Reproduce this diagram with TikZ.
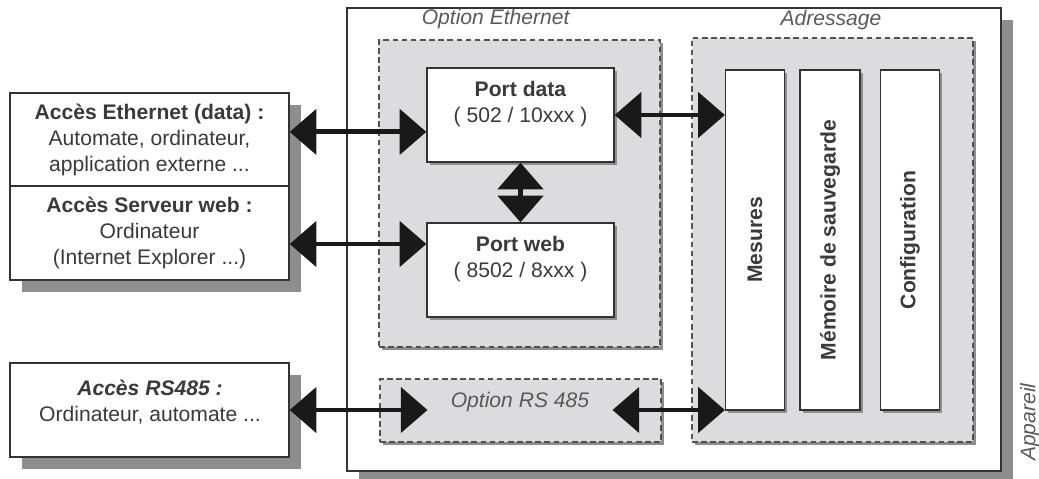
\documentclass[tikz,border=0pt]{standalone}
\usepackage{fontspec}
\setmainfont{Liberation Sans}
\usetikzlibrary{arrows.meta, shadows}

\definecolor{boxline}{HTML}{333333}
\definecolor{txtgray}{HTML}{3A3A3A}
\definecolor{lblgray}{HTML}{5A5A5A}
\definecolor{panelfill}{HTML}{DCDCDE}
\definecolor{shadowgray}{HTML}{8E8E90}

\newcommand{\diagfont}{\fontsize{15}{18.5}\selectfont}

\tikzset{
  bigshadow/.style={drop shadow={shadow xshift=0.3cm, shadow yshift=-0.3cm, fill=shadowgray, opacity=1}},
  smallshadow/.style={drop shadow={shadow xshift=0.07cm, shadow yshift=-0.07cm, fill=shadowgray, opacity=1}},
  appbox/.style={draw=boxline, line width=0.9pt, fill=white, bigshadow},
  hostbox/.style={draw=boxline, line width=0.9pt, fill=white, align=center, minimum width=6.975cm, bigshadow},
  panel/.style={draw=boxline!85, dash pattern=on 4pt off 2.5pt, line width=1pt, fill=panelfill, smallshadow},
  unitbox/.style={draw=boxline, line width=0.9pt, fill=white, smallshadow},
  biarrow/.style={{Triangle[length=19pt,width=32pt]}-{Triangle[length=19pt,width=32pt]}, line width=3.5pt, draw=black!90}
}

\begin{document}
\begin{tikzpicture}[x=0.025cm, y=-0.025cm, every node/.style={font=\diagfont, text=txtgray}]
\useasboundingbox (0,0) rectangle (1039,479);

% appareil et sous-ensembles
\node[appbox, minimum width=16.35cm, minimum height=11.575cm] (app) at (674,239.5) {};
\node[panel, minimum width=7.025cm, minimum height=7.675cm] (optEth) at (519.5,193.5) {};
\node[panel, minimum width=7.025cm, minimum height=10.1cm] (adr) at (832.5,240) {};
\node[panel, minimum width=7.025cm, minimum height=1.575cm] (optRs) at (520.5,410.5) {};

\node[text=lblgray] (optEthLbl) at (496,19) {\textit{Option Ethernet}};
\node[text=lblgray] (adrLbl) at (831,20) {\textit{Adressage}};
\node[text=lblgray, rotate=90] (appLbl) at (1030,422) {\textit{Appareil}};
\node[text=lblgray, inner xsep=0.575cm] (optRsLbl) at (520,402) {\textit{Option RS 485}};

% ports
\node[unitbox, minimum width=4.675cm, minimum height=2.35cm] (portData) at (520.5,115) {};
\node[align=center] (portDataTxt) at (520.5,104.5) {\textbf{Port data}\\( 502 / 10xxx )};
\node[unitbox, minimum width=4.675cm, minimum height=2.35cm] (portWeb) at (520.5,270) {};
\node[align=center] (portWebTxt) at (520.5,259.5) {\textbf{Port web}\\( 8502 / 8xxx )};

% zones d'adressage
\node[unitbox, minimum width=1.475cm, minimum height=8.5cm] (mes) at (755,240) {};
\node[unitbox, minimum width=1.5cm, minimum height=8.5cm] (mem) at (830,240) {};
\node[unitbox, minimum width=1.475cm, minimum height=8.5cm] (conf) at (910,240) {};
\node[rotate=90] (mesTxt) at (mes.center) {\textbf{Mesures}};
\node[rotate=90] (memTxt) at (mem.center) {\textbf{Mémoire de sauvegarde}};
\node[rotate=90] (confTxt) at (conf.center) {\textbf{Configuration}};

% acces externes
\node[hostbox, minimum height=2.325cm] (accEth) at (149.5,139.5) {\textbf{Accès Ethernet (data) :}\\Automate, ordinateur,\\application externe ...};
\node[hostbox, minimum height=2.35cm] (accWeb) at (149.5,233) {\textbf{Accès Serveur web :}\\Ordinateur\\(Internet Explorer ...)};
\node[hostbox, minimum height=2.35cm] (accRs) at (149.5,410) {};
\node[align=center] (accRsTxt) at (150,402.5) {\textbf{\textit{Accès RS485 :}}\\Ordinateur, automate ...};

% liaisons
\coordinate (ethY) at ([yshift=0.19cm]accEth.east);
\coordinate (webY) at ([yshift=-0.275cm]accWeb.east);
\draw[biarrow] (ethY) -- (ethY -| portData.west);
\draw[biarrow] (webY) -- (webY -| portWeb.west);
\draw[biarrow] (portData.east) -- (portData.east -| mes.west);
\draw[biarrow] (portData.south) -- (portWeb.north);
\draw[biarrow] (accRs.east) -- (accRs.east -| optRsLbl.west);
\draw[biarrow] (optRsLbl.east |- accRs.east) -- (accRs.east -| mes.west);
\end{tikzpicture}
\end{document}
